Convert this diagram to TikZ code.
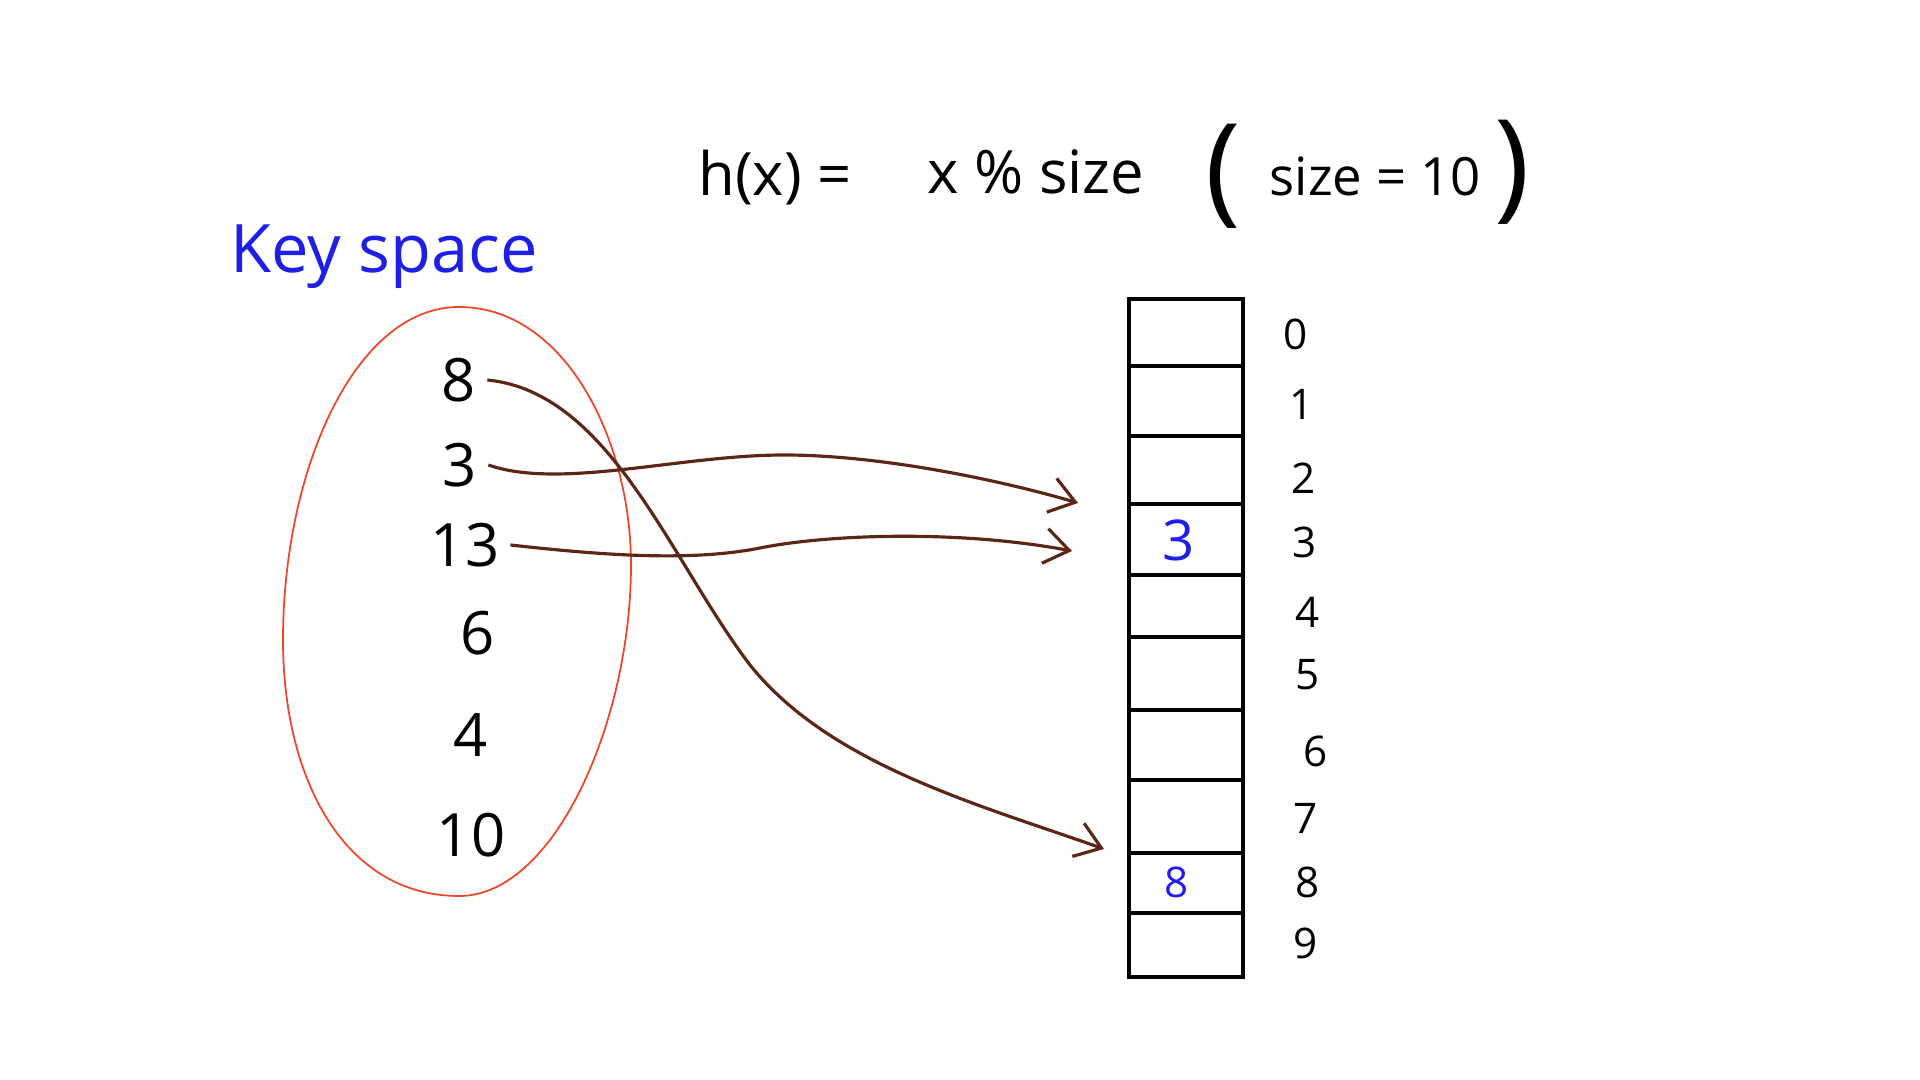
\documentclass[tikz,border=0pt]{standalone}
\usepackage{fontspec}
\setmainfont{Open Sans}
\usetikzlibrary{arrows.meta}
\definecolor{penblue}{RGB}{30,30,230}
\definecolor{linkbrown}{RGB}{92,38,22}
\definecolor{setred}{RGB}{238,70,40}

\begin{document}
\begin{tikzpicture}[x=0.01cm,y=-0.01cm,
  every node/.style={inner sep=0pt},
  key/.style={font=\fontsize{17}{17}\selectfont},
  idx/.style={font=\fontsize{12}{12}\selectfont},
  cell/.style={draw,line width=1.1pt,minimum width=1.14cm},
  link/.style={linkbrown,line width=0.9pt,-{Straight Barb[length=7pt,width=10pt]}}]
\useasboundingbox (0,0) rectangle (1920,1080);
\node[font=\fontsize{17}{17}\selectfont] (hx) at (775,178) {h(x) =};
\node[font=\fontsize{17}{17}\selectfont] (rule) at (1036,172) {x \% size};
\node[font=\fontsize{34}{34}\selectfont] (lp) at (1223,176) {(};
\node[font=\fontsize{15}{15}\selectfont] (size) at (1375,176) {size = 10};
\node[font=\fontsize{34}{34}\selectfont] (rp) at (1512,172) {)};
\node[font=\fontsize{19}{19}\selectfont,text=penblue] (title) at (384,257) {Key space};
\draw[setred,line width=0.5pt] (459,307) .. controls (565,307) and (631,440) .. (631,565)
  .. controls (631,720) and (555,896) .. (459,896)
  .. controls (345,896) and (283,780) .. (283,640)
  .. controls (283,470) and (355,307) .. cycle;
\node[key] (k8) at (459,380) {8};
\node[key] (k3) at (460,465) {3};
\node[key] (k13) at (465,545) {13};
\node[key] (k6) at (478,633) {6};
\node[key] (k4) at (471,735) {4};
\node[key] (k10) at (471,835) {10};
\foreach \i/\t/\b/\lx/\ly [evaluate=\b as \h using (\b-\t)*0.01, evaluate=\b as \c using (\t+\b)/2] in
  {0/299/366/1296/334, 1/366/436/1302/404, 2/436/504/1304/478, 3/504/575/1305/542,
   4/575/637/1308/612, 5/637/710/1308/675, 6/710/780/1316/751, 7/780/853/1306/818,
   8/853/913/1308/882, 9/913/977/1306/943} {
  \node[cell,minimum height=\h cm] (s\i) at (1186,\c) {};
  \node[idx] (n\i) at (\lx,\ly) {\i};
}
\node[font=\fontsize{16}{16}\selectfont,text=penblue] (v3) at (1179,540) {3};
\node[font=\fontsize{12}{12}\selectfont,text=penblue] (v8) at (1177,882) {8};
\coordinate (a3) at (1078,503);
\coordinate (a13) at (1072,551);
\coordinate (a8) at (1104,849);
\draw[link] ([xshift=3pt]k3.east) .. controls (560,490) and (680,455) .. (784,455)
  .. controls (880,455) and (1000,480) .. (a3);
\draw[link] ([xshift=3pt]k13.east) .. controls (600,555) and (690,562) .. (760,548)
  .. controls (830,534) and (960,530) .. (a13);
\draw[link] ([xshift=3pt]k8.east) .. controls (610,392) and (670,560) .. (750,665)
  .. controls (830,765) and (980,805) .. (a8);
\end{tikzpicture}
\end{document}
